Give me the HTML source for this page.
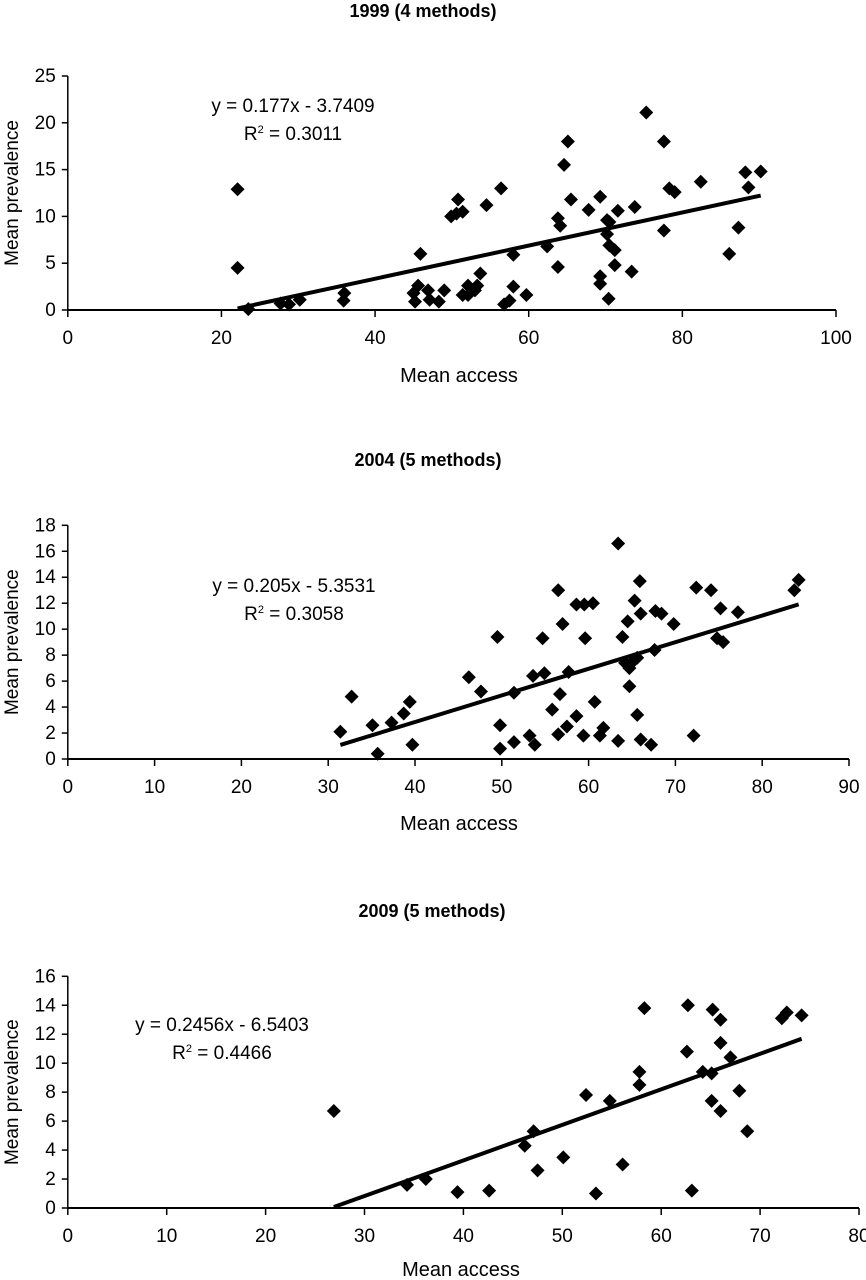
<!DOCTYPE html>
<html><head><meta charset="utf-8"><style>
html,body{margin:0;padding:0;background:#fff;}
svg{display:block;font-family:"Liberation Sans",Arial,sans-serif;}
</style></head><body>
<svg id="fig" width="866" height="1280" viewBox="0 0 866 1280" xmlns="http://www.w3.org/2000/svg"></svg>
<script>
// ---- Chart 1999 data ----
const x1999 = [22.1,22.1,23.5,27.7,28.8,30.2,35.9,36,45,45.2,45.9,45.6,46.9,47.1,48.3,49,49.9,50.6,50.8,51.4,51.4,52.1,52.1,53,53.3,53.7,54.5,56.4,56.8,57.5,58,58,59.7,62.4,63.8,64.1,63.8,64.6,65.1,65.5,67.8,69.3,69.3,69.3,70.2,70.5,70.2,70.5,71.2,71.2,71.6,70.4,73.4,73.8,75.3,77.6,77.6,78.3,79,82.4,86.1,87.3,88.2,88.6,90.2];
const y1999 = [12.9,4.5,0.1,0.7,0.6,1.1,1.0,1.8,1.8,0.9,6,2.6,2.1,1.1,0.9,2.1,10,10.3,11.8,10.5,1.6,1.6,2.6,2.1,2.6,3.9,11.2,13,0.6,1.0,2.5,5.9,1.6,6.8,9.8,9.0,4.6,15.5,18,11.8,10.7,12.1,3.6,2.8,9.6,9.4,8.1,6.9,6.4,4.8,10.6,1.2,4.1,11,21.1,18,8.5,13,12.6,13.7,6,8.8,14.7,13.1,14.8];
const fit1999 = [0.177,-3.7409];
const xTicks1999 = [0,20,40,60,80,100];
const yTicks1999 = [0,5,10,15,20,25];
// ---- Chart 2004 data ----
const x2004 = [31.4,32.7,35.1,35.7,37.3,38.7,39.4,39.7,46.2,47.6,49.5,49.8,49.8,51.4,51.4,53.2,53.8,53.6,54.7,54.9,55.8,56.5,56.7,57,56.5,57.5,57.7,58.6,59.5,58.6,59.6,59.4,60.5,60.7,61.3,61.7,63.4,63.4,63.9,64.2,64.5,64.7,64.7,65.1,65.6,65.3,65.6,65.9,66,66,67.2,67.6,67.7,68.4,69.8,72.1,72.4,74.1,74.8,75.2,75.5,77.2,83.7,84.2];
const y2004 = [2.1,4.8,2.6,0.4,2.8,3.5,4.4,1.1,6.3,5.2,9.4,2.6,0.8,1.3,5.1,1.8,1.1,6.4,9.3,6.6,3.8,13,5.0,10.4,1.9,2.5,6.7,11.9,11.9,3.3,9.3,1.8,12,4.4,1.8,2.4,16.6,1.4,9.4,7.4,10.6,7.0,5.6,7.5,7.8,12.2,3.4,13.7,11.2,1.5,1.1,8.4,11.4,11.2,10.4,1.8,13.2,13,9.3,11.6,9.0,11.3,13.0,13.8];
const fit2004 = [0.205,-5.3531];
const xTicks2004 = [0,10,20,30,40,50,60,70,80,90];
const yTicks2004 = [0,2,4,6,8,10,12,14,16,18];
// ---- Chart 2009 data ----
const x2009 = [26.9,34.3,36.2,39.4,42.6,46.2,47.1,47.5,50.1,52.4,53.4,54.8,56.1,57.8,57.8,58.3,62.7,62.6,63.1,64.2,65.1,65.1,65.2,66,66,66,67,67.9,68.7,72.2,72.7,74.2];
const y2009 = [6.7,1.6,2.0,1.1,1.2,4.3,5.3,2.6,3.5,7.8,1.0,7.4,3.0,9.4,8.5,13.8,14.0,10.8,1.2,9.4,9.3,7.4,13.7,13.0,11.4,6.7,10.4,8.1,5.3,13.1,13.5,13.3];
const fit2009 = [0.2456,-6.5403];
const xTicks2009 = [0,10,20,30,40,50,60,70,80];
const yTicks2009 = [0,2,4,6,8,10,12,14,16];

const NS="http://www.w3.org/2000/svg";
const svg=document.getElementById('fig');
function mk(tag,attrs,parent){const e=document.createElementNS(NS,tag);for(const k in attrs)e.setAttribute(k,attrs[k]);(parent||svg).appendChild(e);return e;}

function chart(cfg){
  const g=mk('g',{});
  
  
  const xMax=cfg.xt[cfg.xt.length-1], yMax=cfg.yt[cfg.yt.length-1];
  const sx=v=>cfg.x0+(cfg.x1-cfg.x0)*v/xMax;
  const sy=v=>cfg.y0-(cfg.y0-cfg.y1)*v/yMax;
  const t=mk('text',{x:cfg.tx,y:cfg.ty,'text-anchor':'middle','font-size':'18','font-weight':'bold'},g);
  t.textContent=cfg.title;
  
  
  const ya=mk('line',{x1:sx(0),y1:sy(0),x2:sx(0),y2:sy(yMax),stroke:'#000','stroke-width':1.5},g);
  
  
  const xa=mk('line',{x1:sx(0),y1:sy(0),x2:sx(xMax),y2:sy(0),stroke:'#000','stroke-width':2},g);
  
  
  cfg.yt.forEach(v=>{
    mk('line',{x1:sx(0)-6,y1:sy(v),x2:sx(0),y2:sy(v),stroke:'#000','stroke-width':1.5},g);
    const l=mk('text',{x:sx(0)-12,y:sy(v)+6,'text-anchor':'end','font-size':'19'},g);
    l.textContent=v;
    
    
  });
  cfg.xt.forEach(v=>{
    mk('line',{x1:sx(v),y1:sy(0),x2:sx(v),y2:sy(0)+7,stroke:'#000','stroke-width':1.5},g);
    const l=mk('text',{x:sx(v),y:sy(0)+34,'text-anchor':'middle','font-size':'19'},g);
    l.textContent=v;
    
    
  });
  const xl=mk('text',{x:cfg.xlx,y:cfg.xly,'text-anchor':'middle','font-size':'20'},g);
  xl.textContent='Mean access';
  
  
  const ym=(sy(0)+sy(yMax))/2;
  const yl=mk('text',{x:0,y:0,'text-anchor':'middle','font-size':'19',transform:`translate(18,${ym}) rotate(-90)`},g);
  yl.textContent='Mean prevalence';
  
  
  cfg.xs.forEach((xv,i)=>{
    const cx=sx(xv), cy=sy(cfg.ys[i]);
    const p=mk('polygon',{points:`${cx},${cy-7} ${cx+7},${cy} ${cx},${cy+7} ${cx-7},${cy}`,fill:'#000'},g);
    
    
  });
  const xmin=Math.min(...cfg.xs), xmx=Math.max(...cfg.xs);
  const xa0=Math.max(xmin,-cfg.fit[1]/cfg.fit[0]);
  const tl=mk('line',{x1:sx(xa0),y1:sy(cfg.fit[0]*xa0+cfg.fit[1]),x2:sx(xmx),y2:sy(cfg.fit[0]*xmx+cfg.fit[1]),stroke:'#000','stroke-width':4},g);
  
  
  const eq=mk('text',{x:cfg.ex,y:cfg.ey,'text-anchor':'middle','font-size':'19'},g);
  eq.textContent=`y = ${cfg.fit[0]}x - ${Math.abs(cfg.fit[1])}`;
  
  
  const r=mk('text',{x:cfg.ex,y:cfg.ey+28,'text-anchor':'middle','font-size':'19'},g);
  r.innerHTML=`R<tspan dy="-7" font-size="11">2</tspan><tspan dy="7"> = ${cfg.r2}</tspan>`;
  
  
}
chart({name:'chart-1999',title:'1999 (4 methods)',tx:423,ty:17,x0:67.8,x1:836,y0:310,y1:76,xt:xTicks1999,yt:yTicks1999,xs:x1999,ys:y1999,fit:fit1999,r2:'0.3011',ex:293,ey:112,xlx:459,xly:382});
chart({name:'chart-2004',title:'2004 (5 methods)',tx:428,ty:466,x0:67.8,x1:849,y0:759,y1:525.3,xt:xTicks2004,yt:yTicks2004,xs:x2004,ys:y2004,fit:fit2004,r2:'0.3058',ex:294,ey:592,xlx:459,xly:830});
chart({name:'chart-2009',title:'2009 (5 methods)',tx:432,ty:917,x0:67.8,x1:859,y0:1208,y1:976.3,xt:xTicks2009,yt:yTicks2009,xs:x2009,ys:y2009,fit:fit2009,r2:'0.4466',ex:222,ey:1031,xlx:461,xly:1276});
</script>
</body></html>
